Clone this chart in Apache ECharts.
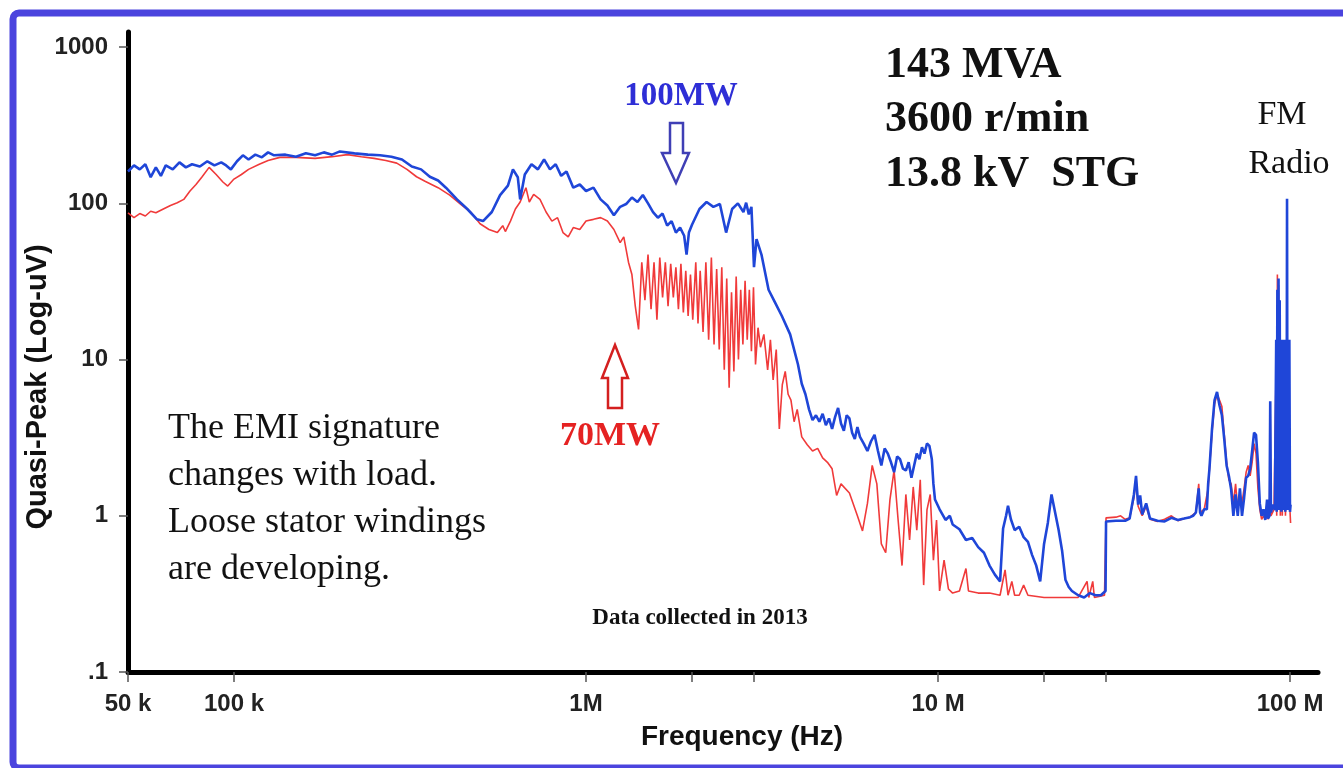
<!DOCTYPE html>
<html>
<head>
<meta charset="utf-8">
<title>EMI signature</title>
<script src="https://cdn.jsdelivr.net/npm/echarts@6/dist/echarts.min.js"></script>
<style>
  html, body { margin: 0; padding: 0; background: #fff; }
  #main { width: 1343px; height: 768px; }
</style>
</head>
<body>
<div id="main"></div>
<script>
// frequency in MHz, quasi-peak in uV
var load100MW = [
  [0.050,160],[0.052,175],[0.054,165],[0.056,178],[0.058,147],[0.060,170],[0.062,150],[0.064,175],
  [0.067,165],[0.070,183],[0.073,170],[0.076,178],[0.080,172],[0.084,186],[0.088,175],[0.092,183],
  [0.095,175],[0.098,165],[0.102,186],[0.106,203],[0.110,191],[0.115,205],[0.120,197],[0.125,212],
  [0.130,203],[0.140,205],[0.150,199],[0.160,209],[0.170,203],[0.180,212],[0.190,205],[0.200,215],
  [0.220,209],[0.240,205],[0.260,203],[0.280,199],[0.300,191],[0.320,172],[0.340,165],[0.360,148],
  [0.380,140],[0.400,126],[0.430,106],[0.460,92],[0.490,79],[0.510,77],[0.540,88],[0.570,113],
  [0.600,130],[0.620,165],[0.640,147],[0.650,106],[0.670,153],[0.700,178],[0.730,165],[0.760,191],
  [0.790,165],[0.820,178],[0.850,150],[0.880,160],[0.920,126],[0.960,132],[1.000,120],[1.050,126],
  [1.100,106],[1.150,97],[1.200,84],[1.250,95],[1.300,99],[1.350,109],[1.400,102],[1.450,113],
  [1.500,100],[1.550,88],[1.600,81],[1.650,86],[1.700,72],[1.750,77],[1.800,65],[1.850,70],
  [1.900,62],[1.930,47],[1.960,65],[2.000,73],[2.100,92],[2.200,102],[2.300,95],[2.400,99],
  [2.500,65],[2.600,92],[2.700,100],[2.800,88],[2.850,101],[2.900,85],[2.950,95],[3.000,39],
  [3.050,59],[3.150,47],[3.300,28],[3.450,23],[3.600,19],[3.800,14.5],[4.000,9.3],[4.100,7.0],
  [4.200,6.0],[4.300,4.8],[4.400,4.1],[4.500,4.4],[4.600,4.0],[4.700,4.5],[4.800,3.8],[4.900,4.2],
  [5.000,3.6],[5.100,4.3],[5.200,4.9],[5.300,3.9],[5.400,3.5],[5.500,4.4],[5.600,4.2],[5.700,3.4],
  [5.800,3.1],[5.900,3.7],[6.000,3.2],[6.150,2.9],[6.300,2.6],[6.450,3.0],[6.600,3.3],[6.750,2.6],
  [6.900,2.1],[7.050,2.7],[7.200,2.5],[7.350,2.2],[7.500,1.9],[7.650,2.4],[7.800,2.3],[7.950,2.0],
  [8.100,1.95],[8.250,2.2],[8.400,1.75],[8.550,2.1],[8.700,2.5],[8.850,2.3],[9.000,2.75],[9.150,2.5],
  [9.300,2.9],[9.450,2.8],[9.600,2.3],[9.700,1.6],[9.800,1.27],[10.1,1.1],[10.5,0.94],[10.8,1.0],
  [11,0.88],[11.5,0.82],[12,0.70],[12.5,0.72],[13,0.63],[13.5,0.58],[14,0.48],[14.5,0.42],
  [15,0.38],[15.3,0.83],[15.6,1.0],[15.8,1.16],[16.1,0.95],[16.5,0.81],[17,0.85],[17.5,0.73],
  [18,0.68],[18.5,0.56],[19,0.48],[19.5,0.38],[20,0.66],[20.5,0.9],[21,1.37],[21.5,1.05],
  [22,0.81],[22.5,0.6],[23,0.39],[23.5,0.35],[24,0.33],[25,0.31],[26,0.30],[27,0.32],
  [28,0.31],[29,0.31],[29.9,0.33],[30,0.92],[32,0.93],[34,0.93],[35,0.96],[36,1.37],
  [36.5,1.8],[37,1.18],[37.5,1.35],[38,1.02],[39,1.2],[40,0.96],[42,0.93],[44,0.92],
  [46,0.97],[48,0.94],[50,0.96],[52,0.98],[53,1.0],[54,1.05],[55,1.5],[55.5,1.05],
  [56,1.0],[57,1.1],[58,1.1],[58.5,1.6],[59,2.0],[60,3.6],[61,5.5],[62,6.2],
  [63,5.1],[64,4.4],[65,3.1],[66,2.1],[67,1.8],[68,1.47],[69,1.0],[70,1.37],
  [71,1.0],[72,1.5],[73,1.0],[74,1.3],[75,1.75],[76,1.8],[77,2.0],[78,2.6],
  [79,3.4],[80,3.3],[81,2.2],[82,1.2],[83,1.0],[84,1.1],[85,0.94],[86,1.27],
  [86.5,0.96],[87.4,1.0],[87.8,5.4],[88.2,1.05],[89.5,1.18],[90.5,1.09],[91.3,13.4],[91.6,1.06],
  [92.0,28],[92.3,1.12],[92.7,33],[93.0,1.09],[93.4,24],[93.8,1.18],[94.1,13.4],[94.5,1.06],
  [94.9,13.4],[95.3,1.12],[95.7,12.5],[96.1,1.09],[96.5,13.4],[96.9,1.06],[97.3,13.4],[97.7,1.18],
  [98.0,107],[98.3,1.09],[98.7,13.4],[99.1,1.12],[99.5,13.4],[99.9,1.06],[100.3,1.18]
];

var load70MW = [
  [0.050,87],[0.052,81],[0.054,86],[0.056,83],[0.058,89],[0.060,87],[0.063,92],[0.066,97],
  [0.069,101],[0.072,106],[0.075,120],[0.078,132],[0.081,147],[0.085,170],[0.089,153],[0.093,137],
  [0.096,129],[0.100,143],[0.105,153],[0.110,165],[0.118,178],[0.125,188],[0.135,197],[0.150,197],
  [0.170,194],[0.190,199],[0.210,205],[0.230,199],[0.250,194],[0.270,188],[0.290,181],[0.310,165],
  [0.330,148],[0.350,138],[0.380,126],[0.410,113],[0.440,99],[0.470,88],[0.500,74],[0.530,68],
  [0.560,65],[0.580,72],[0.590,66],[0.610,77],[0.630,92],[0.650,102],[0.675,126],[0.690,102],
  [0.710,114],[0.740,106],[0.770,88],[0.800,77],[0.830,81],[0.860,65],[0.890,61],[0.920,70],
  [0.960,68],[1.000,77],[1.050,79],[1.100,81],[1.150,77],[1.200,68],[1.250,56],[1.280,61],
  [1.320,42],[1.350,35],[1.380,22],[1.410,15.6],[1.440,42],[1.470,24],[1.500,47],[1.530,21],
  [1.560,42],[1.590,18],[1.620,45],[1.650,25],[1.680,42],[1.710,22],[1.740,41],[1.770,25],
  [1.800,39],[1.830,21],[1.860,41],[1.890,20],[1.920,37],[1.950,19],[1.980,35],[2.010,18],
  [2.050,42],[2.080,17],[2.110,37],[2.150,15],[2.190,42],[2.230,13.4],[2.270,45],[2.310,12.5],
  [2.350,38],[2.390,11.6],[2.430,39],[2.470,8.6],[2.510,33],[2.550,6.6],[2.590,27],[2.630,8.4],
  [2.670,34],[2.710,10],[2.750,28],[2.790,12.5],[2.830,32],[2.870,13.4],[2.910,28],[2.950,11.3],
  [2.990,29],[3.030,9.3],[3.080,16],[3.130,12],[3.200,14.5],[3.280,8.6],[3.340,13.4],[3.400,7.4],
  [3.470,11.6],[3.540,3.6],[3.610,6.9],[3.680,8.4],[3.750,6.0],[3.820,5.5],[3.900,4.0],[3.980,4.8],
  [4.100,3.2],[4.250,2.85],[4.400,2.6],[4.550,2.7],[4.700,2.35],[4.850,2.2],[5.000,2.0],[5.150,1.35],
  [5.300,1.6],[5.600,1.4],[5.900,1.0],[6.100,0.8],[6.300,1.2],[6.500,2.1],[6.700,1.6],[6.900,0.66],
  [7.100,0.58],[7.300,1.27],[7.500,1.95],[7.700,0.94],[7.900,0.48],[8.100,1.37],[8.300,0.70],[8.500,1.53],
  [8.700,0.81],[8.900,1.7],[9.100,0.36],[9.300,1.09],[9.500,1.37],[9.700,0.52],[9.900,0.94],[10.1,0.33],
  [10.4,0.52],[10.7,0.34],[11,0.32],[11.5,0.33],[12,0.46],[12.2,0.33],[13,0.32],[14,0.32],
  [15,0.31],[15.5,0.45],[15.8,0.31],[16.2,0.38],[16.5,0.31],[17,0.31],[17.5,0.36],[18,0.31],
  [20,0.30],[22,0.30],[25,0.30],[26.5,0.38],[26.8,0.30],[27.5,0.38],[27.8,0.30],[29.7,0.31],
  [30,0.97],[32,0.98],[33,1.0],[34,0.95],[35,0.97],[36,1.3],[36.5,1.7],[37,1.15],
  [38,1.0],[39,1.15],[40,0.95],[42,0.92],[44,0.95],[46,1.0],[48,0.93],[50,0.96],
  [52,0.98],[54,1.05],[55,1.6],[55.5,1.05],[57,1.1],[58.5,1.5],[59,2.0],[60,3.4],
  [61,5.2],[62,6.0],[63,5.5],[64,5.0],[65,3.3],[66,2.2],[67,1.7],[68,1.6],
  [69,1.2],[70,1.6],[71,1.1],[72,1.4],[73,1.2],[74,1.5],[75,1.9],[76,2.1],
  [77,1.8],[78,2.2],[79,2.9],[80,2.5],[81,1.5],[82,1.1],[83,0.95],[84,1.0],
  [85,0.95],[86,1.1],[86.5,0.95],[87.4,1.0],[87.8,4.5],[88.2,1.0],[90,1.1],[91.3,10],
  [91.6,1.0],[92.0,35],[92.3,1.1],[92.7,30],[93.0,1.1],[93.4,18],[93.8,1.0],[94.5,8],
  [95,1.0],[96.5,6],[97,1.0],[98.0,3],[98.5,1.4],[99.5,1.3],[100.3,0.9]
];

var xTickValues = [5e4, 1e5, 1e6, 1e7, 1e8];
var xTickLabels = ['50 k', '100 k', '1M', '10 M', '100 M'];
var xTickMarks = [5e4, 1e5, 1e6, 2e6, 3e6, 1e7, 2e7, 3e7, 1e8];
var yTickValues = [0.1, 1, 10, 100, 1000];
var yTickLabels = ['.1', '1', '10', '100', '1000'];

function toHz(rows) {
  return rows.map(function (r) { return [r[0] * 1e6, r[1]]; });
}
function pickLabel(values, labels) {
  return function (v) {
    for (var i = 0; i < values.length; i++) {
      if (Math.abs(v / values[i] - 1) < 1e-6) return labels[i];
    }
    return '';
  };
}

var chart = echarts.init(document.getElementById('main'));
var sans = '"Liberation Sans", Arial, sans-serif';
var serif = '"Liberation Serif", "Times New Roman", serif';

var option = {
  backgroundColor: '#fff',
  animation: false,
  grid: { left: 128, right: 25, top: 32, bottom: 96 },
  xAxis: {
    type: 'log',
    min: 5e4,
    max: 1.2e8,
    axisLine: { lineStyle: { color: '#000', width: 5 } },
    axisTick: { length: 10, customValues: xTickMarks, lineStyle: { color: '#555', width: 1.5 } },
    splitLine: { show: false },
    axisLabel: {
      margin: 20, color: '#222', fontFamily: sans, fontWeight: 'bold', fontSize: 24,
      formatter: pickLabel(xTickValues, xTickLabels)
    }
  },
  yAxis: {
    type: 'log',
    min: 0.1,
    max: 1250,
    axisLine: { lineStyle: { color: '#000', width: 5 } },
    axisTick: { length: 9, customValues: yTickValues, lineStyle: { color: '#555', width: 1.5 } },
    splitLine: { show: false },
    axisLabel: {
      margin: 20, color: '#222', fontFamily: sans, fontWeight: 'bold', fontSize: 24,
      formatter: pickLabel(yTickValues, yTickLabels)
    }
  },
  series: [
    {
      name: '70MW', type: 'line', data: toHz(load70MW), showSymbol: false,
      lineStyle: { color: '#f03a3a', width: 1.6 }, z: 2
    },
    {
      name: '100MW', type: 'line', data: toHz(load100MW), showSymbol: false,
      lineStyle: { color: '#1f46d8', width: 2.6 }, z: 3
    }
  ],
  graphic: [
    {
      type: 'rect', shape: { x: 13, y: 13, width: 1340, height: 755, r: 6 },
      style: { fill: 'none', stroke: '#4b44de', lineWidth: 7 }, z: 100
    },
    {
      type: 'text', x: 38, y: 387, rotation: Math.PI / 2,
      style: { text: 'Quasi-Peak (Log-uV)', font: 'bold 29px ' + sans, fill: '#111', align: 'center', verticalAlign: 'middle' }
    },
    {
      type: 'text', x: 742, y: 737,
      style: { text: 'Frequency (Hz)', font: 'bold 28px ' + sans, fill: '#111', align: 'center', verticalAlign: 'middle' }
    },
    {
      type: 'text', x: 885, y: 66,
      style: { text: '143 MVA', font: 'bold 44px ' + serif, fill: '#111', align: 'left', verticalAlign: 'middle' }
    },
    {
      type: 'text', x: 885, y: 120,
      style: { text: '3600 r/min', font: 'bold 44px ' + serif, fill: '#111', align: 'left', verticalAlign: 'middle' }
    },
    {
      type: 'text', x: 885, y: 175,
      style: { text: '13.8 kV  STG', font: 'bold 44px ' + serif, fill: '#111', align: 'left', verticalAlign: 'middle' }
    },
    {
      type: 'text', x: 681, y: 96,
      style: { text: '100MW', font: 'bold 33px ' + serif, fill: '#2e2ed6', align: 'center', verticalAlign: 'middle' }
    },
    {
      type: 'polygon',
      shape: { points: [[670, 123], [683, 123], [683, 153], [689, 153], [676, 183], [662, 153], [670, 153]] },
      style: { fill: '#fff', stroke: '#3f3fb5', lineWidth: 2.5 }
    },
    {
      type: 'polygon',
      shape: { points: [[615, 345], [628, 378], [622, 378], [622, 408], [608, 408], [608, 378], [602, 378]] },
      style: { fill: '#fff', stroke: '#d41f1f', lineWidth: 2.5 }
    },
    {
      type: 'text', x: 610, y: 436,
      style: { text: '70MW', font: 'bold 34px ' + serif, fill: '#e52222', align: 'center', verticalAlign: 'middle' }
    },
    {
      type: 'text', x: 1282, y: 115,
      style: { text: 'FM', font: '34px ' + serif, fill: '#111', align: 'center', verticalAlign: 'middle' }
    },
    {
      type: 'text', x: 1289, y: 164,
      style: { text: 'Radio', font: '34px ' + serif, fill: '#111', align: 'center', verticalAlign: 'middle' }
    },
    {
      type: 'text', x: 168, y: 429,
      style: { text: 'The EMI signature', font: '36px ' + serif, fill: '#111', align: 'left', verticalAlign: 'middle' }
    },
    {
      type: 'text', x: 168, y: 476,
      style: { text: 'changes with load.', font: '36px ' + serif, fill: '#111', align: 'left', verticalAlign: 'middle' }
    },
    {
      type: 'text', x: 168, y: 523,
      style: { text: 'Loose stator windings', font: '36px ' + serif, fill: '#111', align: 'left', verticalAlign: 'middle' }
    },
    {
      type: 'text', x: 168, y: 570,
      style: { text: 'are developing.', font: '36px ' + serif, fill: '#111', align: 'left', verticalAlign: 'middle' }
    },
    {
      type: 'text', x: 700, y: 618,
      style: { text: 'Data collected in 2013', font: 'bold 23px ' + serif, fill: '#111', align: 'center', verticalAlign: 'middle' }
    }
  ]
};

chart.setOption(option);
</script>
</body>
</html>
